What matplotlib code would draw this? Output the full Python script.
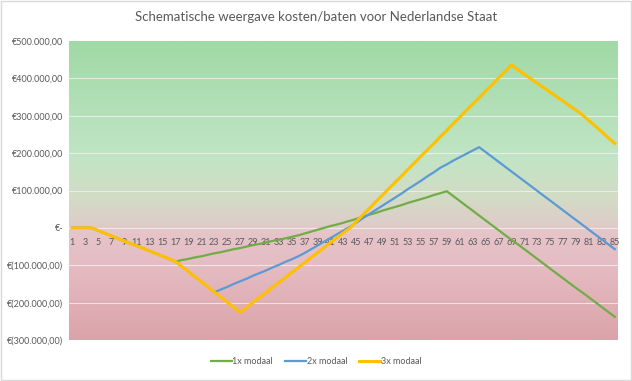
import numpy as np
import matplotlib
matplotlib.use("Agg")
import matplotlib.pyplot as plt
from matplotlib.colors import LinearSegmentedColormap
from matplotlib.patches import Rectangle

plt.rcParams["font.family"] = ["Lato", "DejaVu Sans"]

TITLE = "Schematische weergave kosten/baten voor Nederlandse Staat"
TEXT_COLOR = "#595959"

categories = list(range(1, 86))

# shared start (1..17)
common_start = [0, 0, 0, 0, -7000, -14000, -21000, -28000, -35000, -42000,
                -48000, -55000, -62000, -69000, -76000, -83000, -90000]

modaal_1x = common_start + [
    -86000, -83000, -79000, -76000, -72000, -68000, -65000, -61000, -57000, -54000,
    -50000, -46000, -43000, -39000, -35000, -32000, -28000, -24000, -20000, -15000,
    -10000, -5000, 0, 5000, 9000, 14000, 19000, 24000, 30000, 35000,
    40000, 46000, 51000, 56000, 61000, 67000, 72000, 77000, 82000, 88000,
    93000, 98000, 85000, 72000, 59000, 46000, 33000, 20000, 7000, -6000,
    -19000, -32000, -44000, -57000, -70000, -83000, -96000, -109000, -122000, -135000,
    -148000, -161000, -173000, -186000, -199000, -212000, -225000, -238000]

modaal_2x = common_start + [
    -104000, -117000, -131000, -144000, -158000, -172000, -165000, -158000, -150000, -143000,
    -136000, -128000, -121000, -114000, -106000, -99000, -91000, -84000, -76000, -67000,
    -57000, -47000, -37000, -27000, -17000, -7000, 3000, 14000, 26000, 37000,
    48000, 59000, 70000, 81000, 92000, 104000, 115000, 126000, 138000, 149000,
    161000, 170000, 180000, 189000, 198000, 207000, 216000, 203000, 190000, 177000,
    164000, 151000, 138000, 125000, 112000, 99000, 86000, 73000, 60000, 47000,
    34000, 21000, 8000, -5000, -18000, -31000, -44000, -57000]

modaal_3x = common_start + [
    -104000, -117000, -131000, -144000, -158000, -172000, -185000, -199000, -212000, -226000,
    -213000, -199000, -186000, -173000, -159000, -146000, -133000, -119000, -106000, -93000,
    -79000, -66000, -53000, -39000, -26000, -13000, 0, 17000, 35000, 52000,
    70000, 87000, 105000, 122000, 139000, 157000, 174000, 192000, 209000, 226000,
    244000, 261000, 279000, 296000, 314000, 331000, 348000, 366000, 383000, 401000,
    418000, 436000, 423000, 411000, 399000, 387000, 375000, 363000, 351000, 339000,
    327000, 315000, 302000, 287000, 272000, 257000, 241000, 226000]

SERIES = [
    {"values": modaal_1x, "label": "1x modaal", "color": "#70ad47", "lw": 1.6},
    {"values": modaal_2x, "label": "2x modaal", "color": "#5b9bd5", "lw": 1.6},
    {"values": modaal_3x, "label": "3x modaal", "color": "#ffc000", "lw": 2.2},
]

Y_MIN, Y_MAX = -300000, 500000
y_ticks = list(range(Y_MIN, Y_MAX + 1, 100000))


def euro(v):
    if v == 0:
        return "€-"
    s = f"{abs(v):,.2f}".replace(",", "X").replace(".", ",").replace("X", ".")
    return f"€({s})" if v < 0 else f"€{s}"


fig = plt.figure(figsize=(6.32, 3.81), dpi=100)
ax = fig.add_axes([69 / 632, 1 - 340 / 381, 549 / 632, 299 / 381])

# category axis crosses at zero (do this before styling ticks, it resets them)
ax.spines["bottom"].set_position(("data", 0))
for side in ["top", "right", "left", "bottom"]:
    ax.spines[side].set_visible(False)

# background gradient, green above, red below
stops = [(0.0, "#dba3a9"), (0.25, "#e5bcc3"), (0.36, "#e6c5c9"),
         (0.40, "#dccfc8"), (0.48, "#d2dcc5"), (0.62, "#c0e5c4"),
         (1.0, "#a0d9a6")]
cmap = LinearSegmentedColormap.from_list("bg", stops)
grad = np.linspace(0, 1, 256).reshape(-1, 1)
ax.imshow(grad, aspect="auto", cmap=cmap, origin="lower",
          extent=[0.5, 85.5, Y_MIN, Y_MAX], zorder=0)

for y in y_ticks[1:-1]:
    ax.axhline(y, color="#f2f2f2", linewidth=0.8, alpha=0.8, zorder=1)

for s in SERIES:
    ax.plot(categories, s["values"], color=s["color"], linewidth=s["lw"],
            label=s["label"], zorder=3, solid_joinstyle="round")

ax.set_xlim(0.5, 85.5)
ax.set_ylim(Y_MIN, Y_MAX)
ax.set_yticks(y_ticks)
ax.set_yticklabels([euro(v) for v in y_ticks], fontsize=6.5, color=TEXT_COLOR)
ax.set_xticks(categories[::2])
ax.set_xticklabels([str(c) for c in categories[::2]], fontsize=6.5, color=TEXT_COLOR)
ax.tick_params(axis="both", length=0)
ax.tick_params(axis="x", pad=7)
ax.tick_params(axis="y", pad=4)

fig.suptitle(TITLE, fontsize=9.5, color=TEXT_COLOR, y=1 - 17 / 381, va="center")

fig.legend(loc="center", bbox_to_anchor=(0.5, 1 - 362 / 381), ncol=3, frameon=False,
           fontsize=6.5, handlelength=2.3, handletextpad=0.1, columnspacing=1.3,
           labelcolor=TEXT_COLOR)

fig.patches.append(Rectangle((0.001, 0.002), 0.997, 0.995, transform=fig.transFigure,
                             fill=False, edgecolor="#d9d9d9", linewidth=1))

fig.savefig("out.png", dpi=100)
